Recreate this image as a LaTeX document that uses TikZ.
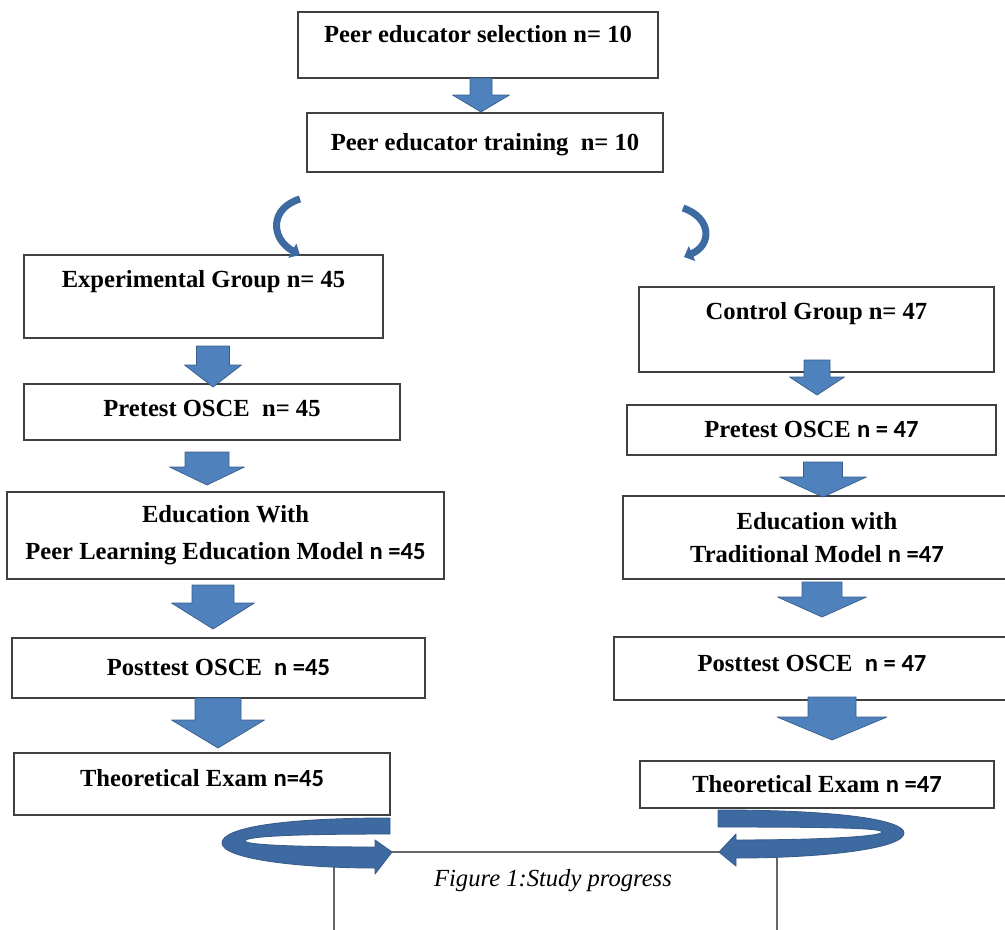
\documentclass[tikz,border=0pt]{standalone}
\usepackage{fontspec}
\setmainfont{Liberation Serif}
\newfontfamily\nsans{Carlito}
\usepackage{tikz}
\usetikzlibrary{calc,positioning,arrows.meta}
\definecolor{arrblue}{RGB}{79,129,189}
\definecolor{arredge}{RGB}{56,93,138}
\definecolor{swirlblue}{RGB}{62,106,162}

% block arrow: top coord, tip coord, half shaft, half head, head length
\newcommand{\blk}[5]{%
  \filldraw[blockarrow] ($(#1)+(-#3,0)$) -- ($(#1)+(#3,0)$) -- ($(#2)+(#3,-#5)$) -- ($(#2)+(#4,-#5)$)
    -- (#2) -- ($(#2)+(-#4,-#5)$) -- ($(#2)+(-#3,-#5)$) -- cycle;}

\begin{document}
\begin{tikzpicture}[x=0.02cm, y=-0.02cm,
    box/.style={draw=black!75, line width=0.8pt, fill=white, inner sep=0pt,
      font=\bfseries\fontsize{14}{17}\selectfont},
    mid/.style={text height=10pt, text depth=#1}, mid/.default=1pt,
    blockarrow/.style={fill=arrblue, draw=arredge, line width=0.4pt, line join=round},
    turn/.style={draw=swirlblue, line width=4pt, -{Triangle[width=9pt,length=5pt]}},
    swirl/.style={fill=swirlblue, draw=arredge, line width=0.5pt, line join=round},
    rule/.style={draw=black!60, line width=0.6pt}]
  \useasboundingbox (0,0) rectangle (1005,930);
  \clip (0,0) rectangle (1005,930);
  %\draw[help lines,step=50] (0,0) grid (1005,930); %help grid

  % peer educators
  \node[box, mid=13pt, minimum width=7.2cm, minimum height=1.32cm] (sel) at (478,45) {Peer educator selection n= 10};
  \node[box, mid, minimum width=7.12cm, minimum height=1.18cm] (train) at (485,142.5) {Peer educator training\ \ n= 10};

  % experimental group
  \node[box, mid=20pt, minimum width=7.18cm, minimum height=1.66cm] (exp) at (203.5,296.5) {Experimental Group n= 45};
  \node[box, mid=5pt, minimum width=7.52cm, minimum height=1.12cm] (preL) at (212,412) {Pretest OSCE\ \ n= 45};
  \node[box, align=center, font=\bfseries\fontsize{14}{21}\selectfont, minimum width=8.74cm, minimum height=1.74cm] (eduL) at (225.5,535.5) {Education With\\Peer Learning Education Model {\nsans n =45}};
  \node[box, mid, minimum width=8.26cm, minimum height=1.2cm] (postL) at (218.5,668) {Posttest OSCE\ \ {\nsans n =45}\hspace{6mm}};
  \node[box, mid=7.5pt, minimum width=7.52cm, minimum height=1.24cm] (theoL) at (202,784) {Theoretical Exam {\nsans n=45}};

  % control group
  \node[box, mid=21pt, minimum width=7.1cm, minimum height=1.7cm] (ctl) at (816.5,329.5) {Control Group n= 47};
  \node[box, mid, minimum width=7.38cm, minimum height=1cm] (preR) at (811.5,430) {Pretest OSCE {\nsans n = 47}};
  \node[box, align=center, font=\bfseries\fontsize{14}{18.7}\selectfont, minimum width=7.76cm, minimum height=1.66cm] (eduR) at (817,537.5) {Education with\\Traditional Model {\nsans n =47}};
  \node[box, mid=7pt, minimum width=7.92cm, minimum height=1.26cm] (postR) at (812,668.5) {Posttest OSCE\ \ {\nsans n = 47}};
  \node[box, mid, minimum width=7.08cm, minimum height=0.94cm] (theoR) at (817,784.5) {Theoretical Exam {\nsans n =47}};

  % block arrows
  \coordinate (A1a) at (481,78);  \coordinate (A1b) at (481,112);
  \coordinate (L1a) at (213,346); \coordinate (L1b) at (213,387);
  \coordinate (L2a) at (207,452); \coordinate (L2b) at (207,485);
  \coordinate (L3a) at (213,585); \coordinate (L3b) at (213,629);
  \coordinate (L4a) at (218,698); \coordinate (L4b) at (218,748);
  \coordinate (R1a) at (817,360); \coordinate (R1b) at (817,395);
  \coordinate (R2a) at (823,462); \coordinate (R2b) at (823,497);
  \coordinate (R3a) at (822,582); \coordinate (R3b) at (822,617);
  \coordinate (R4a) at (832,697); \coordinate (R4b) at (832,740);
  \blk{A1a}{A1b}{11}{28.5}{17}
  \blk{L1a}{L1b}{16.5}{28.5}{22}
  \blk{L2a}{L2b}{22}{37.5}{18}
  \blk{L3a}{L3b}{21}{41.5}{26}
  \blk{L4a}{L4b}{23}{46.5}{28}
  \blk{R1a}{R1b}{13}{27.5}{18}
  \blk{R2a}{R2b}{19.5}{43.5}{20}
  \blk{R3a}{R3b}{20}{44.5}{20}
  \blk{R4a}{R4b}{24}{55}{23}

  % split arrows
  \coordinate (TLa) at (300,199); \coordinate (TLb) at (300,255);
  \coordinate (TRa) at (683,208); \coordinate (TRb) at (684,257);
  \draw[turn] (TLa) .. controls (270,208) and (270,238) .. (TLb);
  \draw[turn] (TRa) .. controls (712,218) and (712,245) .. (TRb);

  % bottom lines and swirls
  \coordinate (hL) at (392,852); \coordinate (hR) at (719,852);
  \coordinate (vL) at (334,855); \coordinate (vR) at (777,856);
  \draw[rule] (hL) -- (hR);
  \draw[rule] (vL) -- ++(0,80);
  \draw[rule] (vR) -- ++(0,80);
  \filldraw[swirl] (390,818) .. controls (280,818) and (222,828) .. (222,843)
    .. controls (222,859) and (300,868) .. (375,868) -- (375,874) -- (hL) -- (375,840) -- (375,847)
    .. controls (300,847) and (245,845) .. (245,841) .. controls (245,836) and (300,834) .. (390,834) -- cycle;
  \filldraw[swirl] (718,810) .. controls (840,810) and (904,820) .. (904,833)
    .. controls (904,849) and (820,858) .. (736,858) -- (736,866) -- (hR) -- (736,834) -- (736,840)
    .. controls (810,840) and (882,837) .. (882,832) .. controls (882,828) and (830,827) .. (718,827) -- cycle;

  \node[anchor=base, font=\itshape\fontsize{14}{17}\selectfont] (cap) at (553,886) {Figure 1:Study progress};
\end{tikzpicture}
\end{document}
